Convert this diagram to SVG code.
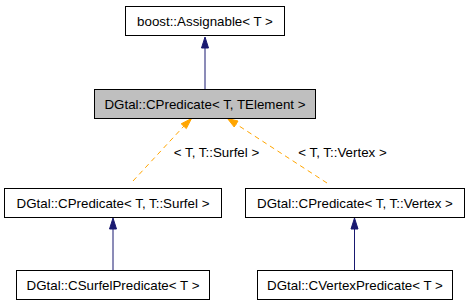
<svg xmlns="http://www.w3.org/2000/svg" width="469" height="307" viewBox="0 0 469 307">
<style>
  .node rect { fill: #ffffff; stroke: #000000; stroke-width: 1; }
  .node.current rect { fill: #bfbfbf; }
  .node text, .lbl { font-family: "Liberation Sans", Arial, Helvetica, sans-serif; font-size: 13.33px; fill: #000000; text-anchor: middle; }
  .inh { stroke: #191970; stroke-width: 1; fill: none; }
  .tpl { stroke: #ffa500; stroke-width: 1; fill: none; stroke-dasharray: 5,4; }
  .head-inh { fill: #191970; stroke: #191970; }
  .head-tpl { fill: #ffa500; stroke: #ffa500; }
</style>
<rect width="469" height="307" fill="#ffffff"/>

<g id="connectors">
  <!-- Assignable <- CPredicate -->
  <path class="inh" d="M205,89 L205,48"/>
  <polygon class="head-inh" points="201.5,48 205,37 208.5,48"/>
  <!-- CPredicate <- CPredicate<T,T::Surfel> -->
  <path class="tpl" d="M133,181 L184,126"/>
  <polygon class="head-tpl" points="181.2,123.8 191.5,118.5 186.3,128.6"/>
  <text class="lbl" x="216.5" y="157">&lt; T, T::Surfel &gt;</text>
  <!-- CPredicate <- CPredicate<T,T::Vertex> -->
  <path class="tpl" d="M327,183 L236,124"/>
  <polygon class="head-tpl" points="238,121 227.5,118.5 234.2,127"/>
  <text class="lbl" x="342.5" y="157">&lt; T, T::Vertex &gt;</text>
  <!-- CPredicate<T,T::Surfel> <- CSurfelPredicate -->
  <path class="inh" d="M113,270 L113,229"/>
  <polygon class="head-inh" points="109.5,229 113,218 116.5,229"/>
  <!-- CPredicate<T,T::Vertex> <- CVertexPredicate -->
  <path class="inh" d="M354.5,270 L354.5,229"/>
  <polygon class="head-inh" points="351,229 354.5,218 358,229"/>
</g>

<g id="node-assignable" class="node">
  <rect x="125.5" y="6.5" width="159" height="29"/>
  <text x="205" y="25.5">boost::Assignable&lt; T &gt;</text>
</g>
<g id="node-cpredicate" class="node current">
  <rect x="94.5" y="89.5" width="221" height="29"/>
  <text x="205" y="108.5">DGtal::CPredicate&lt; T, TElement &gt;</text>
</g>
<g id="node-cpredicate-surfel" class="node">
  <rect x="4.5" y="188.5" width="217" height="29"/>
  <text x="113" y="207.5">DGtal::CPredicate&lt; T, T::Surfel &gt;</text>
</g>
<g id="node-cpredicate-vertex" class="node">
  <rect x="245.5" y="188.5" width="219" height="29"/>
  <text x="355" y="207.5">DGtal::CPredicate&lt; T, T::Vertex &gt;</text>
</g>
<g id="node-csurfelpredicate" class="node">
  <rect x="16.5" y="270.5" width="193" height="29"/>
  <text x="113" y="289.5">DGtal::CSurfelPredicate&lt; T &gt;</text>
</g>
<g id="node-cvertexpredicate" class="node">
  <rect x="257.5" y="270.5" width="195" height="29"/>
  <text x="355" y="289.5">DGtal::CVertexPredicate&lt; T &gt;</text>
</g>
</svg>
